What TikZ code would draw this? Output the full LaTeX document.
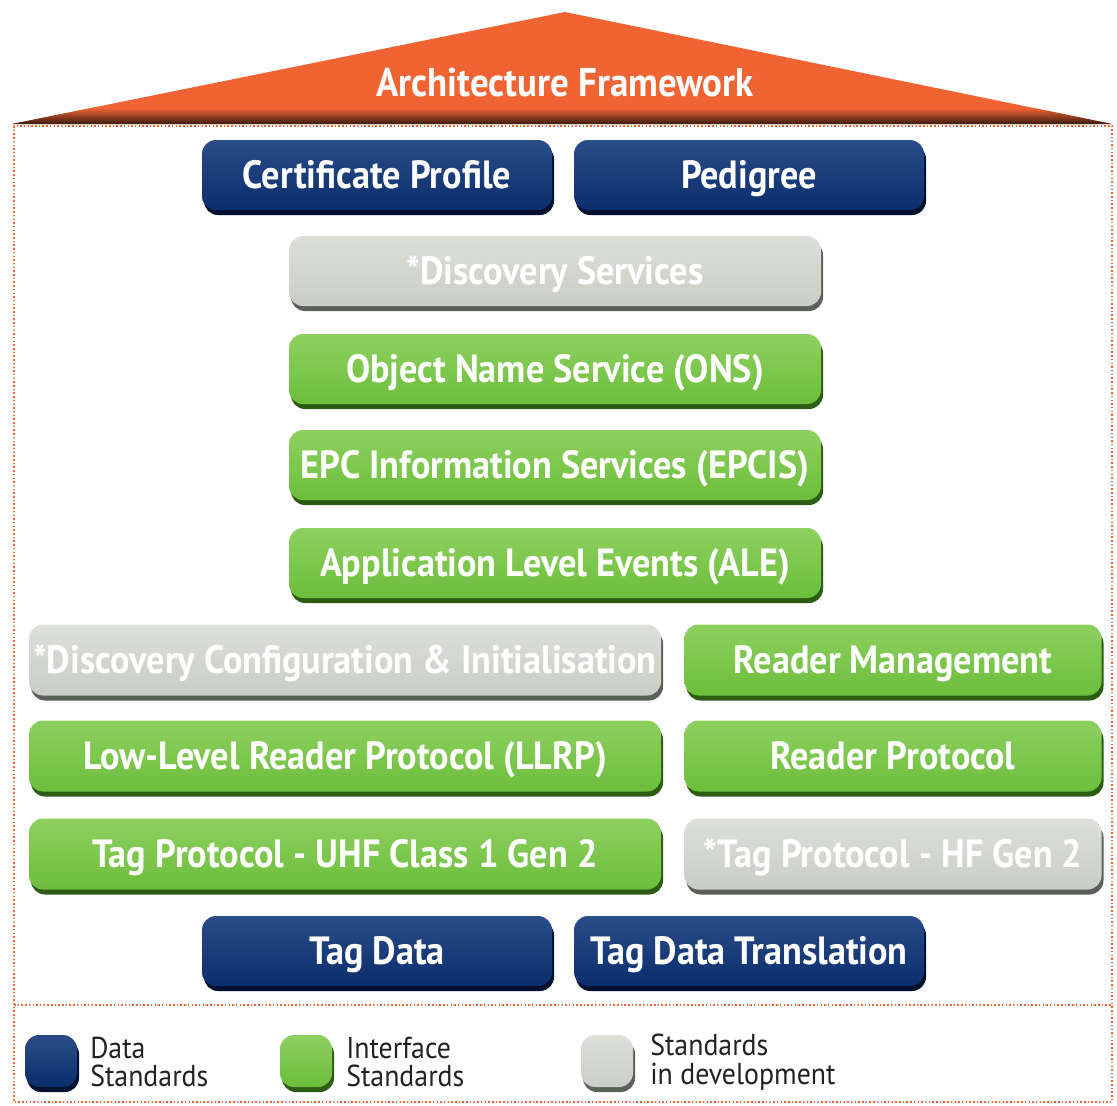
\documentclass[tikz,border=0pt]{standalone}
\usepackage{fontspec}
\setmainfont{PT Sans}[FakeStretch=0.92]
\usetikzlibrary{shadows}

\newlength\px
\setlength\px{0.025cm}

\definecolor{roof}{HTML}{F06434}
\definecolor{roofdark}{HTML}{3A1A0C}
\definecolor{navy}{HTML}{0B2D6C}
\definecolor{navytop}{HTML}{2A4C88}
\definecolor{navyshade}{HTML}{02112E}
\definecolor{ifgreen}{HTML}{6CBE3C}
\definecolor{ifgreentop}{HTML}{8ED060}
\definecolor{ifgreenshade}{HTML}{2D5C14}
\definecolor{devgray}{HTML}{C9CDC5}
\definecolor{devgraytop}{HTML}{DDE0DA}
\definecolor{devgrayshade}{HTML}{5C605A}
\definecolor{legendtext}{HTML}{222222}

\tikzset{
  stdbox/.style={rounded corners=14\px, inner sep=0pt, text=white,
    text height=27\px, text depth=0pt,
    font=\fontsize{28}{30}\selectfont\bfseries},
  databox/.style={stdbox, top color=navytop, bottom color=navy,
    drop shadow={shadow xshift=2\px, shadow yshift=-5\px, fill=navyshade, opacity=1}},
  ifbox/.style={stdbox, top color=ifgreentop, bottom color=ifgreen,
    drop shadow={shadow xshift=2\px, shadow yshift=-5\px, fill=ifgreenshade, opacity=1}},
  devbox/.style={stdbox, top color=devgraytop, bottom color=devgray,
    drop shadow={shadow xshift=2\px, shadow yshift=-5\px, fill=devgrayshade, opacity=1}},
  wide/.style={minimum width=532\px, minimum height=70\px},
  half/.style={minimum width=350\px, minimum height=70\px},
  left/.style={minimum width=632\px, minimum height=71\px},
  right/.style={minimum width=417\px, minimum height=71\px},
  legendkey/.style={rounded corners=20\px, minimum width=52\px, minimum height=52\px, inner sep=0pt},
  legendlabel/.style={anchor=west, align=left, text=legendtext, inner sep=0pt,
    font=\fontsize{21.5}{20.5}\selectfont},
  border/.style={roof, line width=1.2\px, dash pattern=on 1.5\px off 2.2\px}
}

\begin{document}
\begin{tikzpicture}[x=1\px, y=-1\px]
\useasboundingbox (0,0) rectangle (1117,1105);
% roof
\coordinate (apex) at (565,12);
\coordinate (eaveL) at (12,124);
\coordinate (eaveR) at (1112,124);
\fill[roof] (eaveL) -- (apex) -- (eaveR) -- cycle;
\begin{scope}
\clip (eaveL) -- (apex) -- (eaveR) -- cycle;
\shade[top color=roof, bottom color=roofdark] (0,108) rectangle (1117,124);
\end{scope}
\node[text=white, text height=27\px, text depth=0pt,
  font=\fontsize{28.5}{30}\selectfont\bfseries] (arch) at (565,83) {Architecture Framework};
% dotted frame
\draw[border] (14,126) rectangle (1112,1102);
\draw[border] (14,1005) -- (1112,1005);
% standards
\node[databox, half] (cert) at (377,175) {Certificate Profile};
\node[databox, half] (pedigree) at (749,175) {Pedigree};
\node[devbox, wide] (discovery) at (555,271) {*Discovery Services};
\node[ifbox, wide] (ons) at (555,369) {Object Name Service (ONS)};
\node[ifbox, wide] (epcis) at (555,465) {EPC Information Services (EPCIS)};
\node[ifbox, wide] (ale) at (555,563) {Application Level Events (ALE)};
\node[devbox, left] (dci) at (345,660) {*Discovery Configuration \& Initialisation};
\node[ifbox, right] (rm) at (893,660) {Reader Management};
\node[ifbox, left] (llrp) at (345,756) {Low-Level Reader Protocol (LLRP)};
\node[ifbox, right] (rp) at (893,756) {Reader Protocol};
\node[ifbox, left] (uhf) at (345,854) {Tag Protocol - UHF Class 1 Gen 2};
\node[devbox, right] (hf) at (893,854) {*Tag Protocol - HF Gen 2};
\node[databox, half] (tagdata) at (377,951) {Tag Data};
\node[databox, half] (tdt) at (749,951) {Tag Data Translation};
% legend
\node[legendkey, databox] (keydata) at (51,1061) {};
\node[legendlabel] (lbldata) at (90,1062) {Data\\Standards};
\node[legendkey, ifbox] (keyif) at (306,1061) {};
\node[legendlabel] (lblif) at (346,1062) {Interface\\Standards};
\node[legendkey, devbox] (keydev) at (607,1061) {};
\node[legendlabel] (lbldev) at (650,1062) {Standards\\in development};
\end{tikzpicture}
\end{document}
